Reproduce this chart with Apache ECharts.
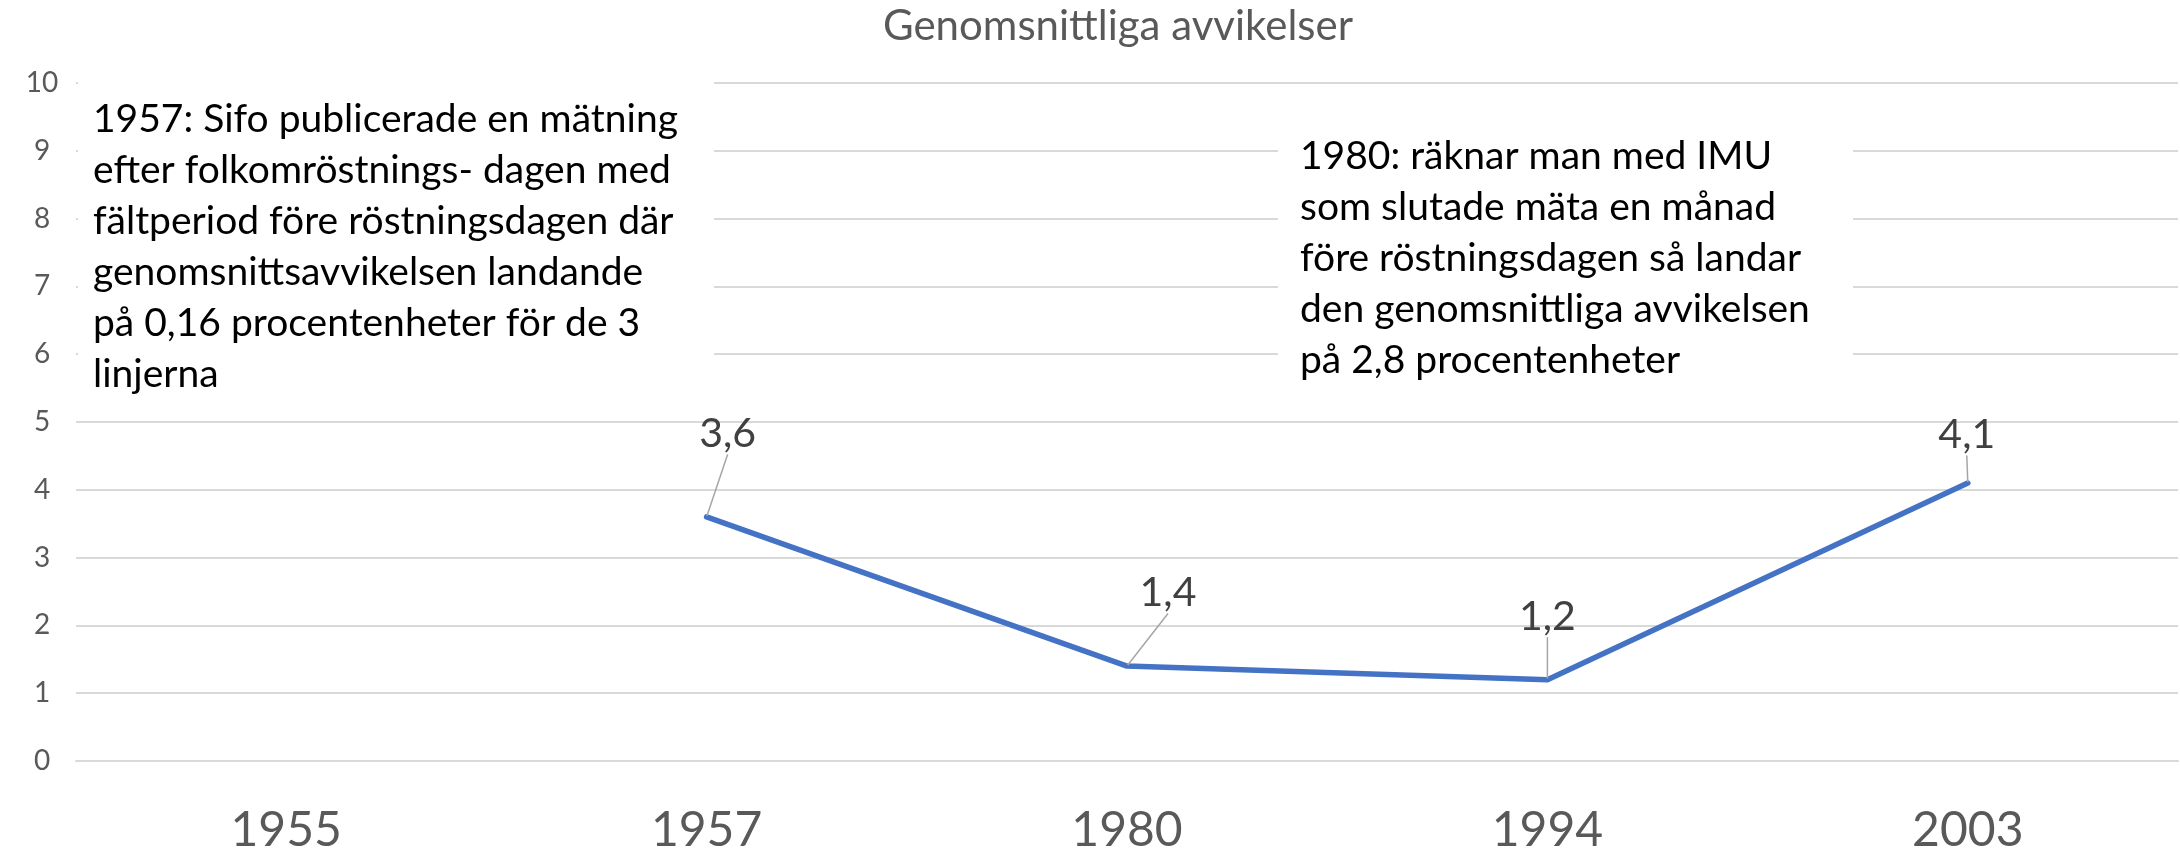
<!DOCTYPE html>
<html>
<head>
<meta charset="utf-8">
<script src="https://cdn.jsdelivr.net/npm/echarts@6/dist/echarts.min.js"></script>
<style>
html,body{margin:0;padding:0;background:#fff;}
#chart{width:2180px;height:855px;}
</style>
</head>
<body>
<div id="chart"></div>
<script>
// ---- data ----
const title = 'Genomsnittliga avvikelser';
const categories = ['1955', '1957', '1980', '1994', '2003'];
const values = [null, 3.6, 1.4, 1.2, 4.1];
const yTicks = [0, 1, 2, 3, 4, 5, 6, 7, 8, 9, 10];
const note1957 = [
  '1957: Sifo publicerade en mätning',
  'efter folkomröstnings- dagen med',
  'fältperiod före röstningsdagen där',
  'genomsnittsavvikelsen landande',
  'på 0,16 procentenheter för de 3',
  'linjerna'
];
const note1980 = [
  '1980: räknar man med IMU',
  'som slutade mäta en månad',
  'före röstningsdagen så landar',
  'den genomsnittliga avvikelsen',
  'på 2,8 procentenheter'
];

// label placement (label centre relative to its point, px)
const labelOffsets = [[0, 0], [21, -83], [41, -73], [0, -63], [-1, -48]];

const FONT = 'Lato, "Noto Sans", sans-serif';
const chart = echarts.init(document.getElementById('chart'));

chart.setOption({
  animation: false,
  backgroundColor: '#ffffff',
  grid: { left: 76, right: 2, top: 83, bottom: 92, containLabel: false },
  xAxis: {
    type: 'category',
    data: categories,
    boundaryGap: true,
    axisLine: { show: true, lineStyle: { color: '#D9D9D9', width: 2 } },
    axisTick: { show: false },
    axisLabel: { color: '#595959', fontSize: 48, fontFamily: FONT, margin: 46 },
    splitLine: { show: false }
  },
  yAxis: {
    type: 'value',
    min: yTicks[0],
    max: yTicks[yTicks.length - 1],
    interval: 1,
    axisLine: { show: false },
    axisTick: { show: false },
    axisLabel: { color: '#595959', fontSize: 28, fontFamily: FONT, align: 'center', margin: 34 },
    splitLine: { lineStyle: { color: '#D9D9D9', width: 2 } }
  },
  series: [{
    type: 'line',
    data: values,
    connectNulls: false,
    showSymbol: true,
    symbol: 'circle',
    symbolSize: 2,
    itemStyle: { color: '#4472C4' },
    lineStyle: { color: '#4472C4', width: 5.5, cap: 'round', join: 'round' },
    label: {
      show: true,
      position: 'top',
      distance: 0,
      color: '#404040',
      fontSize: 41,
      fontFamily: FONT,
      formatter: p => String(p.value).replace('.', ',')
    },
    labelLine: { show: true, lineStyle: { color: '#A6A6A6', width: 1.5 } },
    labelLayout: function (params) {
      const r = params.rect;
      const cx = r.x + r.width / 2;
      const cy = r.y + r.height / 2;
      const o = labelOffsets[params.dataIndex] || [0, -40];
      const lx = cx + o[0];
      const ly = cy + o[1];
      return {
        x: lx,
        y: ly,
        align: 'center',
        verticalAlign: 'middle',
        labelLinePoints: [[cx, cy], [lx, ly + 30], [lx, ly + 30]]
      };
    }
  }],
  graphic: [
    {
      type: 'text',
      left: 1119 - 236,
      top: 5,
      z: 100,
      style: { text: title, fill: '#595959', font: '42px ' + FONT }
    },
    { type: 'rect', z: 100, shape: { x: 78, y: 70, width: 636, height: 332 }, style: { fill: '#ffffff' } },
    { type: 'text', z: 101, x: 93, y: 94, style: { text: note1957.join('\n'), fill: '#000000', font: '39px ' + FONT, lineHeight: 51, verticalAlign: 'top' } },
    { type: 'rect', z: 100, shape: { x: 1278, y: 115, width: 575, height: 280 }, style: { fill: '#ffffff' } },
    { type: 'text', z: 101, x: 1300, y: 131, style: { text: note1980.join('\n'), fill: '#000000', font: '39px ' + FONT, lineHeight: 51, verticalAlign: 'top' } }
  ]
});
</script>
</body>
</html>
